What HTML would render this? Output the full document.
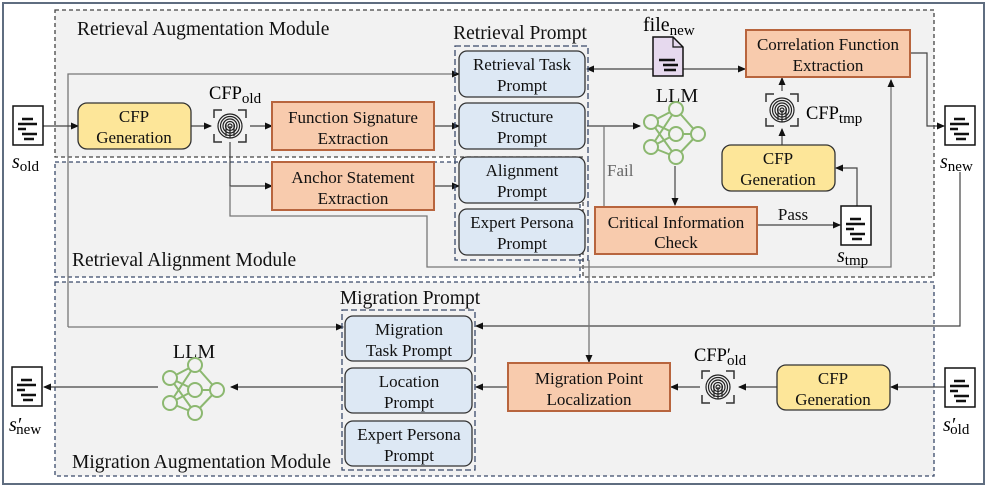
<!DOCTYPE html>
<html><head><meta charset="utf-8"><style>
body{margin:0;background:#fff}
svg{display:block;font-family:"Liberation Serif",serif}
.t{font-size:17px;fill:#111;text-anchor:middle}
.lbl{font-size:19.5px;fill:#111}
.ln{stroke:#444;stroke-width:1.2;fill:none}
.gl{stroke:#777;stroke-width:1.3;fill:none}
.pr{fill:#dde8f4;stroke:#333;stroke-width:1.3}
.ye{fill:#fde699;stroke:#333;stroke-width:1.3}
.or{fill:#f8cbad;stroke:#b8653e;stroke-width:2}
</style></head><body>
<svg width="987" height="487" viewBox="0 0 987 487" xmlns="http://www.w3.org/2000/svg">
<defs>
<marker id="a" markerWidth="8" markerHeight="8" refX="7" refY="4" orient="auto" markerUnits="userSpaceOnUse"><path d="M0,0.5 L8,4 L0,7.5z" fill="#111"/></marker>
<g id="doc"><rect x="0" y="0" width="30" height="39" fill="#fff" stroke="#111" stroke-width="1.5"/><path d="M9,13h11M5,18h19M5,23h8M9,28h15M11,33h10" stroke="#111" stroke-width="2.4"/></g>
<g id="fp"><path d="M0,8V0h8M24,0h8v8M32,24v8h-8M8,32H0v-8" stroke="#333" stroke-width="1.5" fill="none"/>
<g fill="none" stroke="#222" stroke-width="1.2"><circle cx="16" cy="16" r="12"/><circle cx="16" cy="16" r="9.5"/><circle cx="16" cy="16" r="7"/><circle cx="16" cy="16" r="4.5"/><circle cx="16" cy="16" r="2"/><path d="M16,16v12M12,14v12M20,14v12"/></g></g>
<g id="nn" stroke="#8cb870" stroke-width="2" fill="none"><path d="M-25,-13L0,-26M-25,-13L0,-1M-25,-13L0,22M-25,12L0,-26M-25,12L0,-1M-25,12L0,22M0,-26L22,-1M0,-1L22,-1M0,22L22,-1"/>
<g fill="#f2f2f2"><circle cx="0" cy="-26" r="7"/><circle cx="-25" cy="-13" r="7"/><circle cx="0" cy="-1" r="7"/><circle cx="22" cy="-1" r="7"/><circle cx="-25" cy="12" r="7"/><circle cx="0" cy="22" r="7"/></g></g>
</defs>
<rect x="3" y="3" width="981" height="481" fill="#fff" stroke="#5f6d80" stroke-width="2"/>
<path d="M55,10H934V277H583V157H55Z" fill="#f2f2f2" stroke="#444" stroke-width="1.3" stroke-dasharray="4,3"/>
<rect x="55" y="162" width="525" height="115" fill="#f2f2f2" stroke="#3a4a6a" stroke-width="1.3" stroke-dasharray="4,3"/>
<rect x="55" y="282" width="879" height="194" fill="#f2f2f2" stroke="#3a4a6a" stroke-width="1.3" stroke-dasharray="4,3"/>
<text class="lbl" x="77" y="35">Retrieval Augmentation Module</text>
<text class="lbl" x="72" y="266">Retrieval Alignment Module</text>
<text class="lbl" x="72" y="468">Migration Augmentation Module</text>

<path class="gl" d="M68,327V74H459" marker-end="url(#a)"/>
<path class="gl" d="M68,327H343" marker-end="url(#a)"/>
<path class="ln" d="M43,126H78" marker-end="url(#a)"/>
<path class="ln" d="M191,126H211" marker-end="url(#a)"/>
<path class="ln" d="M250,126H272" marker-end="url(#a)"/>
<path class="ln" d="M434,126H459" marker-end="url(#a)"/>
<path class="ln" d="M230,142V186H272" marker-end="url(#a)"/>
<path class="ln" d="M434,186H459" marker-end="url(#a)"/>
<path class="gl" d="M230,186V216H427V267H891V80" marker-end="url(#a)"/>
<path class="ln" d="M653,69H587" marker-end="url(#a)"/>
<path class="ln" d="M683,69H745" marker-end="url(#a)"/>
<path class="ln" d="M587,126H640" marker-end="url(#a)"/>
<path class="gl" d="M604,126V207"/>
<text x="607" y="176" style="font-size:17px;fill:#666">Fail</text>
<path class="ln" d="M675,166V205" marker-end="url(#a)"/>
<path class="ln" d="M757,225H840" marker-end="url(#a)"/>
<text class="t" x="793" y="220">Pass</text>
<path class="ln" d="M857,206V168H836" marker-end="url(#a)"/>
<path class="ln" d="M782,145V129" marker-end="url(#a)"/>
<path class="ln" d="M782,91V78" marker-end="url(#a)"/>
<path class="ln" d="M910,53H927V126H944" marker-end="url(#a)"/>
<path class="ln" d="M960,172V326H476" marker-end="url(#a)"/>
<path class="gl" d="M589,260V362" marker-end="url(#a)"/>
<path class="ln" d="M508,387H476" marker-end="url(#a)"/>
<path class="ln" d="M945,387H891" marker-end="url(#a)"/>
<path class="ln" d="M777,387H739" marker-end="url(#a)"/>
<path class="ln" d="M700,387H671" marker-end="url(#a)"/>
<path class="ln" d="M343,387H231" marker-end="url(#a)"/>
<path class="ln" d="M158,387H44" marker-end="url(#a)"/>

<use href="#doc" x="13" y="106"/>
<text x="12" y="168" style="font-size:20px;font-style:italic">s<tspan font-style="normal" font-size="15" dy="3">old</tspan></text>
<rect class="ye" x="78" y="103" width="113" height="46" rx="9"/>
<text class="t" x="134" y="122">CFP</text><text class="t" x="134" y="143">Generation</text>
<use href="#fp" x="214" y="110"/>
<text x="209" y="99" style="font-size:18.5px">CFP<tspan font-size="15" dy="4">old</tspan></text>
<rect class="or" x="272" y="102" width="162" height="48"/>
<text class="t" x="353" y="123">Function Signature</text><text class="t" x="353" y="144">Extraction</text>
<rect class="or" x="272" y="162" width="162" height="48"/>
<text class="t" x="353" y="183">Anchor Statement</text><text class="t" x="353" y="204">Extraction</text>

<text x="520" y="39" class="t" style="font-size:19.5px">Retrieval Prompt</text>
<rect x="455" y="46" width="133" height="214" fill="none" stroke="#3a4a6a" stroke-width="1.3" stroke-dasharray="6,3"/>
<rect class="pr" x="459" y="51" width="126" height="46" rx="8"/>
<text class="t" x="522" y="70">Retrieval Task</text><text class="t" x="522" y="91">Prompt</text>
<rect class="pr" x="459" y="103" width="126" height="46" rx="8"/>
<text class="t" x="522" y="122">Structure</text><text class="t" x="522" y="143">Prompt</text>
<rect class="pr" x="459" y="157" width="126" height="46" rx="8"/>
<text class="t" x="522" y="176">Alignment</text><text class="t" x="522" y="197">Prompt</text>
<rect class="pr" x="459" y="209" width="126" height="46" rx="8"/>
<text class="t" x="522" y="228">Expert Persona</text><text class="t" x="522" y="249">Prompt</text>

<path d="M653,37H673L683,47V76H653Z" fill="#e6d9ee" stroke="#111" stroke-width="1.5"/>
<path d="M673,37V47H683" fill="none" stroke="#111" stroke-width="1.2"/>
<path d="M659,60h16M663,65h15M664,70h12" stroke="#111" stroke-width="2.4"/>
<text x="643" y="31" style="font-size:20px">file<tspan font-size="15" dy="4">new</tspan></text>
<text class="t" x="677" y="102" style="font-size:20px">LLM</text>
<use href="#nn" x="676" y="135"/>
<rect class="or" x="746" y="30" width="164" height="47"/>
<text class="t" x="828" y="50">Correlation Function</text><text class="t" x="828" y="71">Extraction</text>
<use href="#fp" x="766" y="94"/>
<text x="806" y="119" style="font-size:18.5px">CFP<tspan font-size="15" dy="4">tmp</tspan></text>
<rect class="ye" x="722" y="145" width="113" height="46" rx="9"/>
<text class="t" x="778" y="164">CFP</text><text class="t" x="778" y="185">Generation</text>
<rect class="or" x="595" y="207" width="162" height="47"/>
<text class="t" x="676" y="228">Critical Information</text><text class="t" x="676" y="248">Check</text>
<use href="#doc" x="841" y="206"/>
<text x="837" y="262" style="font-size:20px;font-style:italic">s<tspan font-style="normal" font-size="15" dy="3">tmp</tspan></text>
<use href="#doc" x="945" y="106"/>
<text x="940" y="168" style="font-size:20px;font-style:italic">s<tspan font-style="normal" font-size="15" dy="3">new</tspan></text>

<text x="410" y="304" class="t" style="font-size:19.5px">Migration Prompt</text>
<rect x="342" y="310" width="133" height="160" fill="none" stroke="#3a4a6a" stroke-width="1.3" stroke-dasharray="6,3"/>
<rect class="pr" x="345" y="316" width="127" height="45" rx="8"/>
<text class="t" x="409" y="335">Migration</text><text class="t" x="409" y="356">Task Prompt</text>
<rect class="pr" x="345" y="368" width="127" height="45" rx="8"/>
<text class="t" x="409" y="387">Location</text><text class="t" x="409" y="408">Prompt</text>
<rect class="pr" x="345" y="421" width="127" height="45" rx="8"/>
<text class="t" x="409" y="440">Expert Persona</text><text class="t" x="409" y="461">Prompt</text>
<text class="t" x="194" y="358" style="font-size:20px">LLM</text>
<use href="#nn" x="195" y="391"/>
<use href="#doc" x="12" y="367"/>
<text x="9" y="431" style="font-size:20px;font-style:italic">s′<tspan font-style="normal" font-size="15" dx="-5" dy="3">new</tspan></text>
<rect class="or" x="508" y="363" width="162" height="48"/>
<text class="t" x="589" y="384">Migration Point</text><text class="t" x="589" y="405">Localization</text>
<use href="#fp" x="702" y="371"/>
<text x="694" y="361" style="font-size:18.5px">CFP′<tspan font-size="15" dx="-4" dy="4">old</tspan></text>
<rect class="ye" x="777" y="365" width="113" height="45" rx="9"/>
<text class="t" x="833" y="384">CFP</text><text class="t" x="833" y="405">Generation</text>
<use href="#doc" x="945" y="368"/>
<text x="943" y="431" style="font-size:20px;font-style:italic">s′<tspan font-style="normal" font-size="15" dx="-5" dy="3">old</tspan></text>
</svg>
</body></html>
